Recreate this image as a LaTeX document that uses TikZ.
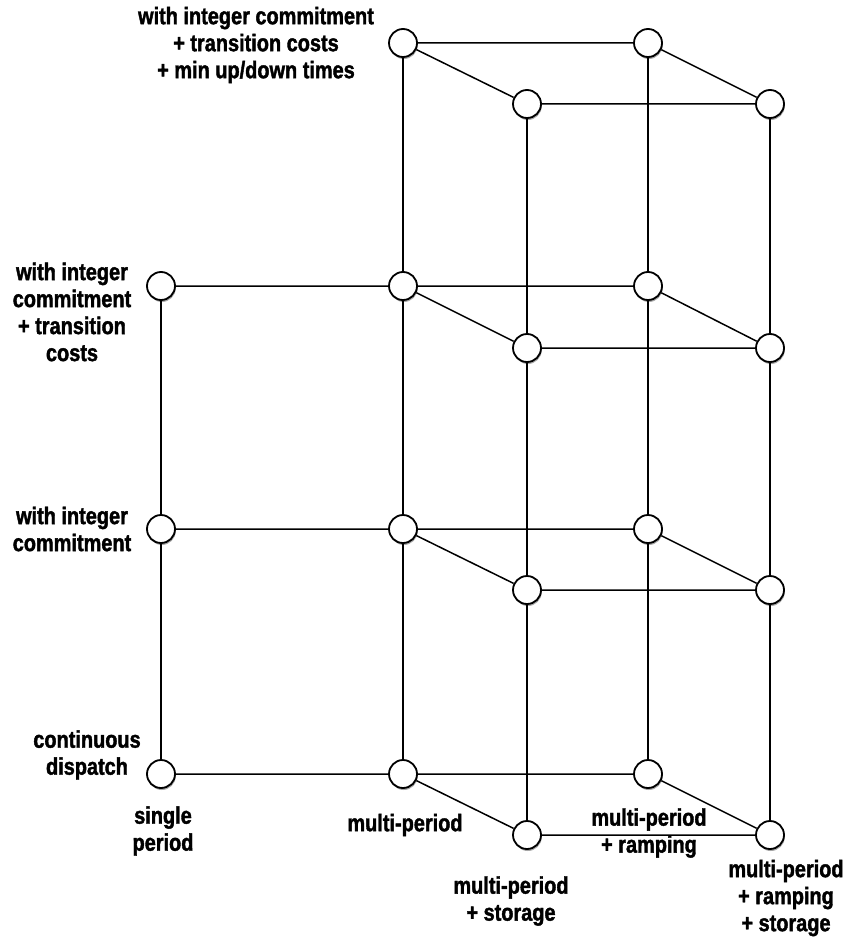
\documentclass[tikz,border=0pt]{standalone}
\usepackage{fontspec}
\setmainfont{Liberation Sans}[FakeStretch=0.83,FakeBold=1.6]
\usetikzlibrary{shadows}
\begin{document}
\begin{tikzpicture}[x=1pt,y=-1pt,
  st/.style={circle,draw=black,fill=white,line width=1.8pt,minimum size=28pt,inner sep=0pt,
    drop shadow={shadow xshift=0.8pt,shadow yshift=-2pt,opacity=0.35,fill=black}},
  ed/.style={line width=1.5pt,black},
  lab/.style={font=\fontsize{24}{27}\selectfont\bfseries,align=center,inner sep=0pt,anchor=center}]
\useasboundingbox (0,0) rectangle (846,939);
% nodes
\node[st] (b1) at (403,43) {};
\node[st] (c1) at (648,43) {};
\node[st] (d1) at (527,104) {};
\node[st] (e1) at (770,104) {};
\node[st] (a2) at (161,286) {};
\node[st] (b2) at (403,286) {};
\node[st] (c2) at (648,286) {};
\node[st] (d2) at (527,348) {};
\node[st] (e2) at (770,348) {};
\node[st] (a3) at (161,529) {};
\node[st] (b3) at (403,529) {};
\node[st] (c3) at (648,529) {};
\node[st] (d3) at (527,590) {};
\node[st] (e3) at (770,590) {};
\node[st] (a4) at (161,774) {};
\node[st] (b4) at (403,774) {};
\node[st] (c4) at (648,774) {};
\node[st] (d4) at (527,835) {};
\node[st] (e4) at (770,835) {};
% edges
\draw[ed] (b1)--(c1) (d1)--(e1) (b1)--(d1) (c1)--(e1);
\draw[ed] (a2)--(b2) (b2)--(c2) (d2)--(e2) (b2)--(d2) (c2)--(e2);
\draw[ed] (a3)--(b3) (b3)--(c3) (d3)--(e3) (b3)--(d3) (c3)--(e3);
\draw[ed] (a4)--(b4) (b4)--(c4) (d4)--(e4) (b4)--(d4) (c4)--(e4);
\draw[ed] (a2)--(a3) (a3)--(a4);
\draw[ed] (b1)--(b2) (b2)--(b3) (b3)--(b4);
\draw[ed] (c1)--(c2) (c2)--(c3) (c3)--(c4);
\draw[ed] (d1)--(d2) (d2)--(d3) (d3)--(d4);
\draw[ed] (e1)--(e2) (e2)--(e3) (e3)--(e4);
% labels
\node[lab] (l1) at (256,45) {with integer commitment\\+ transition costs\\+ min up/down times};
\node[lab] (l2) at (72,312) {with integer\\commitment\\+ transition\\costs};
\node[lab] (l3) at (72,529) {with integer\\commitment};
\node[lab] (l4) at (87,755) {continuous\\dispatch};
\node[lab] (l5) at (163,831) {single\\period};
\node[lab] (l6) at (405,825) {multi-period};
\node[lab] (l7) at (511,901) {multi-period\\+ storage};
\node[lab] (l8) at (649,833) {multi-period\\+ ramping};
\node[lab] (l9) at (786,898) {multi-period\\+ ramping\\+ storage};
\end{tikzpicture}
\end{document}
